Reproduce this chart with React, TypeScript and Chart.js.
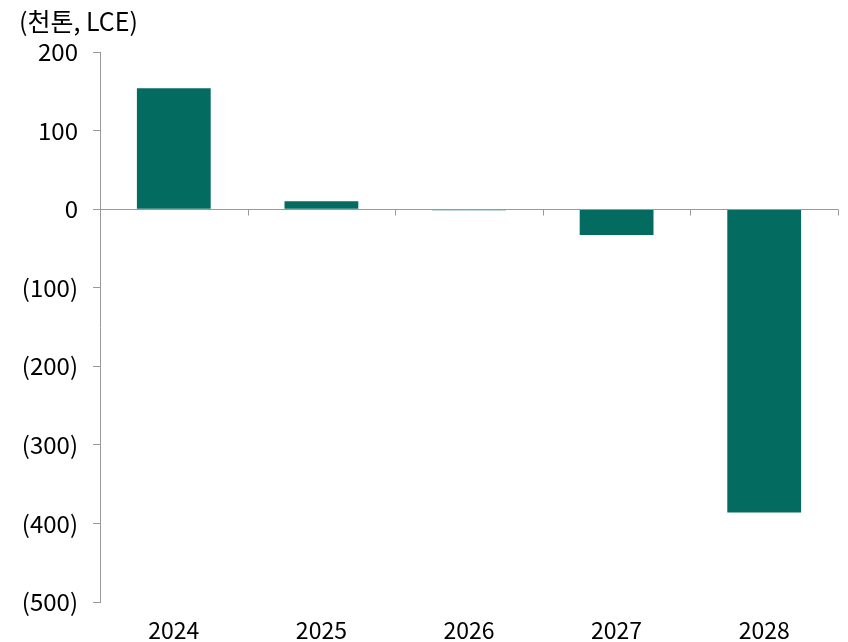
import React, { useEffect, useRef } from "react";
import { Chart, registerables } from "chart.js";

Chart.register(...registerables);

const categories = ["2024", "2025", "2026", "2027", "2028"];
const values = [154, 10, -1.5, -33, -386];
const unitLabel = "(천톤, LCE)";
const yMin = -500;
const yMax = 200;
const yStep = 100;

const FONT = '"Noto Sans CJK KR", "Noto Sans", sans-serif';
const AXIS = "#999999";
const BAR = "#046B60";

const axisPlugin = {
  id: "zeroAxis",
  afterDatasetsDraw(chart: any) {
    const { ctx, chartArea, scales } = chart;
    const y0 = Math.round(scales.y.getPixelForValue(0)) + 0.5;
    ctx.save();
    ctx.strokeStyle = AXIS;
    ctx.lineWidth = 1;
    ctx.beginPath();
    ctx.moveTo(chartArea.left - 7, y0);
    ctx.lineTo(chartArea.right, y0);
    const n = categories.length;
    const w = (chartArea.right - chartArea.left) / n;
    for (let i = 1; i <= n; i++) {
      const x = Math.round(chartArea.left + w * i) + 0.5;
      ctx.moveTo(x, y0);
      ctx.lineTo(x, y0 + 6);
    }
    ctx.stroke();
    ctx.fillStyle = "#000";
    ctx.font = `25px ${FONT}`;
    ctx.textAlign = "left";
    ctx.textBaseline = "alphabetic";
    ctx.fillText(unitLabel, 19, 31);
    ctx.restore();
  },
};

export default function App() {
  const ref = useRef<HTMLCanvasElement>(null);
  useEffect(() => {
    if (!ref.current) return;
    const chart = new Chart(ref.current, {
      type: "bar",
      data: {
        labels: categories,
        datasets: [
          {
            data: values,
            backgroundColor: BAR,
            borderWidth: 0,
            categoryPercentage: 1,
            barPercentage: 0.5,
          },
        ],
      },
      options: {
        animation: false,
        responsive: false,
        maintainAspectRatio: false,
        layout: { padding: { top: 52, right: 10, left: 0, bottom: 0 } },
        plugins: { legend: { display: false }, tooltip: { enabled: false }, title: { display: false } },
        scales: {
          x: {
            border: { display: false },
            grid: { display: false },
            ticks: { color: "#000", font: { family: FONT, size: 23 }, padding: 6, maxRotation: 0 },
            afterFit: (s: any) => {
              s.height = 40;
            },
          },
          y: {
            min: yMin,
            max: yMax,
            border: { display: true, color: AXIS },
            grid: { display: true, drawOnChartArea: false, drawTicks: true, tickLength: 7, color: AXIS },
            ticks: {
              stepSize: yStep,
              color: "#000",
              padding: 15,
              font: { family: FONT, size: 24 },
              callback: (v: any) => (v < 0 ? `(${Math.abs(v)})` : `${v}`),
            },
            afterFit: (s: any) => {
              s.width = 100;
            },
          },
        },
      },
      plugins: [axisPlugin],
    });
    return () => chart.destroy();
  }, []);
  return (
    <div style={{ position: "absolute", left: 0, top: 0, width: 848, height: 642 }}>
      <canvas ref={ref} width={848} height={642} style={{ width: 848, height: 642 }} />
    </div>
  );
}
